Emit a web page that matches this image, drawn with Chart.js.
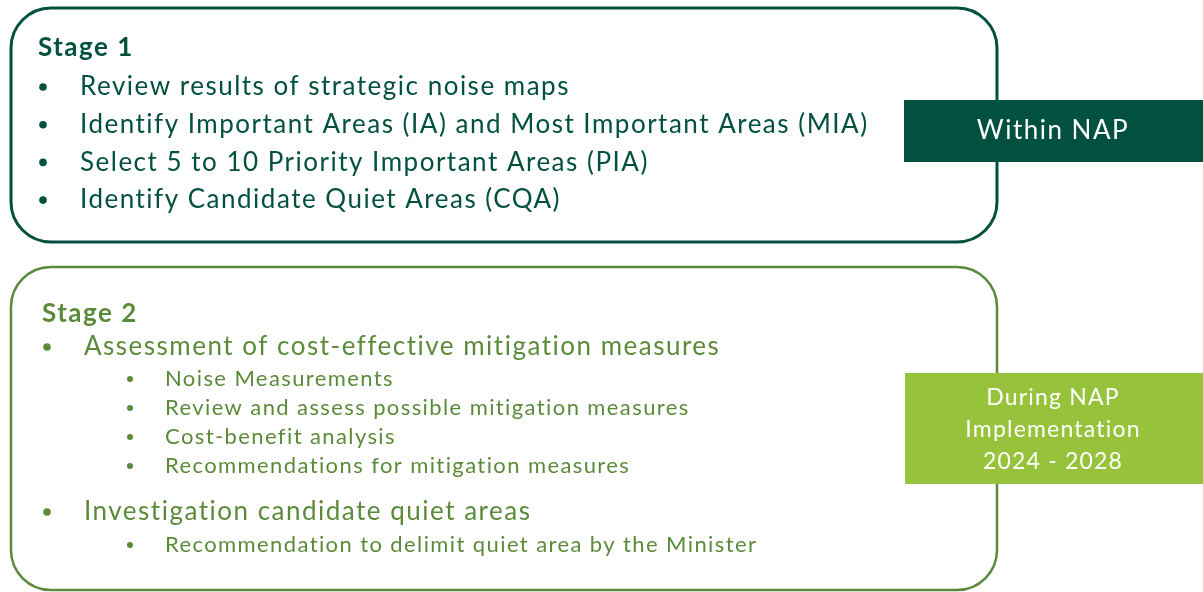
<!DOCTYPE html>
<html>
<head>
<meta charset="utf-8">
<script src="https://cdn.jsdelivr.net/npm/chart.js@4"></script>
<style>
  html, body { margin: 0; padding: 0; background: #fff; }
  #wrap { width: 1203px; height: 592px; position: relative; }
</style>
</head>
<body>
<div id="wrap"><canvas id="diagram"></canvas></div>
<script>
// --- contenu du schéma ---
const stage1Title = 'Stage 1';
const stage1Items = [
  'Review results of strategic noise maps',
  'Identify Important Areas (IA) and Most Important Areas (MIA)',
  'Select 5 to 10 Priority Important Areas (PIA)',
  'Identify Candidate Quiet Areas (CQA)'
];
const stage2Title = 'Stage 2';
const stage2Main = [
  'Assessment of cost-effective mitigation measures',
  'Investigation candidate quiet areas'
];
const stage2SubA = [
  'Noise Measurements',
  'Review and assess possible mitigation measures',
  'Cost-benefit analysis',
  'Recommendations for mitigation measures'
];
const stage2SubB = [
  'Recommendation to delimit quiet area by the Minister'
];
const phase1Label = ['Within NAP'];
const phase2Label = ['During NAP', 'Implementation', '2024 - 2028'];

const DARK = '#02503f';
const OLIVE = '#5b8b3a';
const LIME = '#96c33b';
const FONT = "Lato, 'Open Sans', sans-serif";

function roundRect(ctx, x, y, w, h, r) {
  ctx.beginPath();
  ctx.moveTo(x + r, y);
  ctx.lineTo(x + w - r, y);
  ctx.arcTo(x + w, y, x + w, y + r, r);
  ctx.lineTo(x + w, y + h - r);
  ctx.arcTo(x + w, y + h, x + w - r, y + h, r);
  ctx.lineTo(x + r, y + h);
  ctx.arcTo(x, y + h, x, y + h - r, r);
  ctx.lineTo(x, y + r);
  ctx.arcTo(x, y, x + r, y, r);
  ctx.closePath();
}

function setFont(ctx, spec, spacing) {
  ctx.font = spec + ' ' + FONT;
  ctx.letterSpacing = spacing + 'px';
}

function bullet(ctx, x, y, r) {
  ctx.beginPath();
  ctx.arc(x, y, r, 0, Math.PI * 2);
  ctx.fill();
}

const diagramPlugin = {
  id: 'diagram',
  afterDraw(chart) {
    const { ctx } = chart;
    const X = v => chart.scales.x.getPixelForValue(v);
    const Y = v => chart.scales.y.getPixelForValue(v);
    ctx.save();
    ctx.textBaseline = 'middle';

    // cadre étape 1
    ctx.lineWidth = 3;
    ctx.strokeStyle = DARK;
    roundRect(ctx, X(11), Y(8), X(997) - X(11), Y(242) - Y(8), 40);
    ctx.stroke();

    // cadre étape 2
    ctx.lineWidth = 2.5;
    ctx.strokeStyle = OLIVE;
    roundRect(ctx, X(11), Y(267), X(997) - X(11), Y(590) - Y(267), 40);
    ctx.stroke();

    // étiquettes de phase
    ctx.fillStyle = DARK;
    ctx.fillRect(X(904), Y(100), X(1203) - X(904), Y(162) - Y(100));
    ctx.fillStyle = LIME;
    ctx.fillRect(X(905), Y(373), X(1203) - X(905), Y(484) - Y(373));

    ctx.textAlign = 'center';
    ctx.fillStyle = '#ffffff';
    setFont(ctx, '26px', 1.5);
    phase1Label.forEach((t, i) => ctx.fillText(t, X(1053), Y(131 + i * 32)));
    setFont(ctx, '23px', 1.2);
    phase2Label.forEach((t, i) => ctx.fillText(t, X(1053), Y(398 + i * 32)));

    ctx.textAlign = 'left';
    // étape 1
    ctx.fillStyle = DARK;
    setFont(ctx, 'bold 26px', 1.5);
    ctx.fillText(stage1Title, X(38), Y(48));
    setFont(ctx, '26px', 1.5);
    stage1Items.forEach((t, i) => {
      const y = Y(86 + i * 37.7);
      bullet(ctx, X(43), y + 1, 3.8);
      ctx.fillText(t, X(80), y + 1);
    });

    // étape 2
    ctx.fillStyle = OLIVE;
    setFont(ctx, 'bold 26px', 1.5);
    ctx.fillText(stage2Title, X(42), Y(314));
    setFont(ctx, '26px', 1.5);
    [346, 511].forEach((yy, i) => {
      bullet(ctx, X(47), Y(yy) + 1, 3.8);
      ctx.fillText(stage2Main[i], X(84), Y(yy) + 1);
    });
    setFont(ctx, '22px', 1.4);
    stage2SubA.forEach((t, i) => {
      const y = Y(378 + i * 29);
      bullet(ctx, X(130), y + 1, 3);
      ctx.fillText(t, X(165), y + 1);
    });
    stage2SubB.forEach((t, i) => {
      const y = Y(544 + i * 29);
      bullet(ctx, X(130), y + 1, 3);
      ctx.fillText(t, X(165), y + 1);
    });

    ctx.restore();
  }
};

new Chart(document.getElementById('diagram'), {
  type: 'scatter',
  data: { datasets: [{ data: [] }] },
  options: {
    responsive: true,
    maintainAspectRatio: false,
    animation: false,
    layout: { padding: 0 },
    scales: {
      x: { type: 'linear', min: 0, max: 1203, display: false },
      y: { type: 'linear', min: 0, max: 592, reverse: true, display: false }
    },
    plugins: { legend: { display: false }, tooltip: { enabled: false } }
  },
  plugins: [diagramPlugin]
});
</script>
</body>
</html>
